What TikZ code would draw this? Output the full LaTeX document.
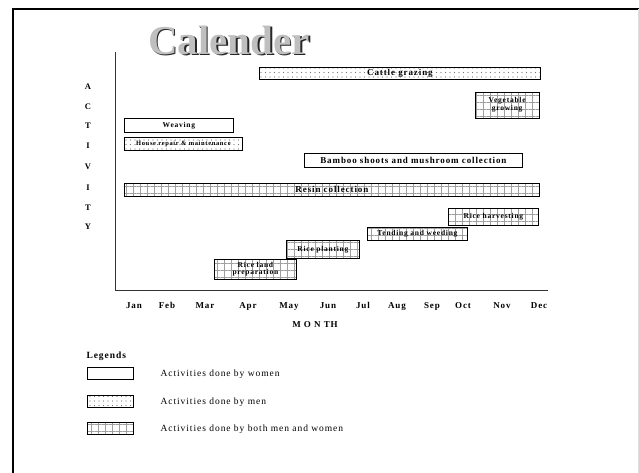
\documentclass[tikz,border=0pt]{standalone}
\usepackage{fontspec}
\setmainfont{Liberation Serif}
\newfontfamily\chartfont[LetterSpace=10]{Liberation Serif}
\usetikzlibrary{patterns.meta}

\tikzset{
    bar/.style={draw=black, line width=0.8pt, inner sep=0pt, anchor=north west, align=center},
    womenbar/.style={bar, fill=white},
    menbar/.style={bar, pattern={Dots[distance=4.5pt, radius=0.55pt]}, pattern color=black!55},
    bothbar/.style={bar, pattern={Hatch[angle=0, distance=7pt, line width=0.3pt]}, pattern color=gray!75},
    monthlabel/.style={font=\chartfont\bfseries\fontsize{9}{10}\selectfont, anchor=base},
    actletter/.style={font=\chartfont\bfseries\fontsize{8.5}{9}\selectfont, anchor=base},
    biglabel/.style={font=\chartfont\bfseries\fontsize{9}{10}\selectfont},
    smalllabel/.style={font=\chartfont\bfseries\fontsize{7.5}{8}\selectfont},
    legendtext/.style={font=\chartfont\fontsize{9.5}{11}\selectfont, anchor=base west}
}

\begin{document}
\begin{tikzpicture}[x=1pt, y=-1pt]
    \useasboundingbox (0,0) rectangle (639,473);

    % Moldura
    \draw[line width=2pt] (13,473) -- (13,9) -- (639,9);
    \draw[gray!25, line width=1pt] (638,9) -- (638,473);

    % Titulo
    \node[font=\bfseries\fontsize{41}{41}\selectfont, text=gray!30!black] (titleshadow) at (230.5,41.5) {Calender};
    \node[font=\bfseries\fontsize{41}{41}\selectfont, text=gray!50] (title) at (229,40) {Calender};

    % Eixos
    \draw[line width=0.9pt, black!80] (115,52) -- (115,290) -- (548,290);

    % Letras do eixo vertical
    \node[actletter] (actA) at (88,90) {A};
    \node[actletter] (actC) at (88,110) {C};
    \node[actletter] (actT) at (88,129) {T};
    \node[actletter] (actI) at (88,149) {I};
    \node[actletter] (actV) at (88,169) {V};
    \node[actletter] (actI2) at (88,190) {I};
    \node[actletter] (actT2) at (88,210) {T};
    \node[actletter] (actY) at (88,229) {Y};

    % Meses
    \node[monthlabel] (jan) at (134,308) {Jan};
    \node[monthlabel] (feb) at (167,308) {Feb};
    \node[monthlabel] (mar) at (205,308) {Mar};
    \node[monthlabel] (apr) at (248,308) {Apr};
    \node[monthlabel] (may) at (289,308) {May};
    \node[monthlabel] (jun) at (328,308) {Jun};
    \node[monthlabel] (jul) at (363,308) {Jul};
    \node[monthlabel] (aug) at (397,308) {Aug};
    \node[monthlabel] (sep) at (432,308) {Sep};
    \node[monthlabel] (oct) at (463,308) {Oct};
    \node[monthlabel] (nov) at (502,308) {Nov};
    \node[monthlabel] (dec) at (539,308) {Dec};
    \node[monthlabel] (month) at (315,327) {M O N TH};

    % Atividades
    \node[menbar, minimum width=281pt, minimum height=12pt, biglabel] (cattle) at (259,67) {Cattle grazing};
    \node[bothbar, minimum width=64pt, minimum height=26pt, smalllabel] (vegetable) at (475,92) {Vegetable\\growing};
    \node[womenbar, minimum width=109pt, minimum height=14pt, smalllabel] (weaving) at (124,118) {Weaving};
    \node[menbar, minimum width=118pt, minimum height=13pt, font=\chartfont\bfseries\fontsize{6.5}{7}\selectfont] (house) at (124,137) {House repair \& maintenance};
    \node[womenbar, minimum width=218pt, minimum height=14pt, biglabel] (bamboo) at (304,153) {Bamboo shoots and mushroom collection};
    \node[bothbar, minimum width=415pt, minimum height=13pt, biglabel] (resin) at (124,183) {Resin collection};
    \node[bothbar, minimum width=90pt, minimum height=17pt, smalllabel] (harvest) at (448,208) {Rice harvesting};
    \node[bothbar, minimum width=100pt, minimum height=13pt, smalllabel] (tending) at (367,227) {Tending and weeding};
    \node[bothbar, minimum width=73pt, minimum height=18pt, smalllabel] (planting) at (286,240) {Rice planting};
    \node[bothbar, minimum width=82pt, minimum height=20pt, font=\chartfont\bfseries\fontsize{7.5}{7.5}\selectfont] (landprep) at (214,259) {Rice land\\preparation};

    % Legendas
    \node[font=\chartfont\bfseries\fontsize{9.5}{11}\selectfont, anchor=base west] (legends) at (83,358) {Legends};
    \node[womenbar, minimum width=46pt, minimum height=12pt] (womenkey) at (87,367) {};
    \node[menbar, minimum width=46pt, minimum height=12pt] (menkey) at (87,395) {};
    \node[bothbar, minimum width=46pt, minimum height=12pt] (bothkey) at (87,422) {};
    \node[legendtext] (womentext) at (157,376) {Activities done by women};
    \node[legendtext] (mentext) at (157,404) {Activities done by men};
    \node[legendtext] (bothtext) at (157,431) {Activities done by both men and women};
\end{tikzpicture}
\end{document}
